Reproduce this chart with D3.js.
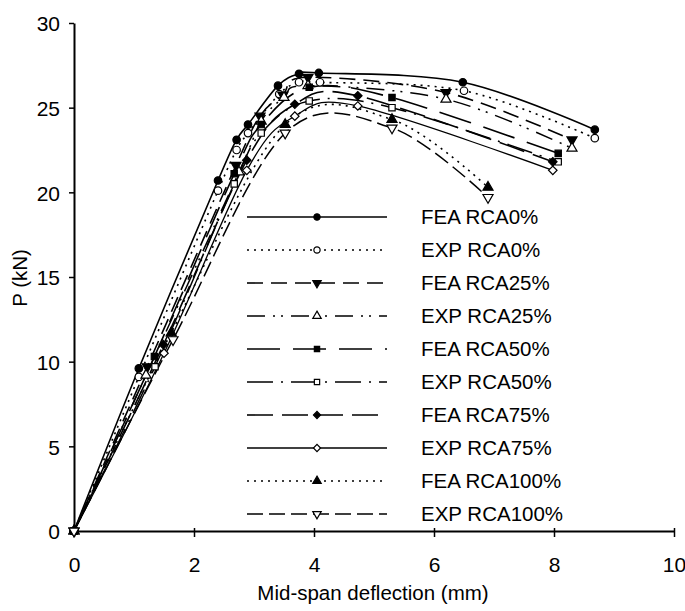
<!DOCTYPE html>
<html>
<head>
<meta charset="utf-8">
<script src="https://cdn.jsdelivr.net/npm/d3@7"></script>
<style>
  html, body { margin: 0; padding: 0; background: #fff; }
  svg text { font-family: "Liberation Sans", Arial, sans-serif; fill: #000; }
</style>
</head>
<body>
<svg id="chart" width="685" height="611"></svg>
<script>
// ---- data ----
const seriesNames = ["FEA RCA0%", "EXP RCA0%", "FEA RCA25%", "EXP RCA25%", "FEA RCA50%",
                     "EXP RCA50%", "FEA RCA75%", "EXP RCA75%", "FEA RCA100%", "EXP RCA100%"];

const fea0X = [0, 1.08, 2.4, 2.71, 2.9, 3.4, 3.75, 4.08, 6.48, 8.68];
const fea0P = [0, 9.6, 20.7, 23.1, 24.0, 26.3, 27.0, 27.05, 26.5, 23.7];
const exp0X = [0, 1.08, 2.4, 2.71, 2.9, 3.42, 3.75, 4.1, 6.5, 8.68];
const exp0P = [0, 9.1, 20.1, 22.5, 23.5, 25.8, 26.5, 26.5, 26.0, 23.2];
const fea25X = [0, 1.22, 2.7, 3.1, 3.48, 3.9, 6.2, 8.3];
const fea25P = [0, 9.7, 21.6, 24.5, 25.75, 26.8, 25.9, 23.1];
const exp25X = [0, 1.2, 2.75, 3.12, 3.5, 3.9, 6.2, 8.3];
const exp25P = [0, 9.2, 21.2, 24.2, 25.6, 26.3, 25.5, 22.6];
const fea50X = [0, 1.34, 2.67, 3.12, 3.92, 5.3, 8.07];
const fea50P = [0, 10.3, 21.1, 24.0, 26.2, 25.6, 22.3];
const exp50X = [0, 1.35, 2.67, 3.12, 3.92, 5.3, 8.07];
const exp50P = [0, 9.7, 20.5, 23.5, 25.4, 25.0, 21.8];
const fea75X = [0, 1.49, 2.88, 3.68, 4.73, 7.98];
const fea75P = [0, 11.0, 21.9, 25.2, 25.7, 21.8];
const exp75X = [0, 1.5, 2.88, 3.68, 4.73, 7.98];
const exp75P = [0, 10.5, 21.3, 24.5, 25.1, 21.3];
const fea100X = [0, 1.62, 3.52, 5.3, 6.9];
const fea100P = [0, 11.7, 24.0, 24.3, 20.3];
const exp100X = [0, 1.65, 3.52, 5.3, 6.9];
const exp100P = [0, 11.3, 23.5, 23.8, 19.7];

const xTicks = [0, 2, 4, 6, 8, 10];
const yTicks = [0, 5, 10, 15, 20, 25, 30];
const xTitle = "Mid-span deflection (mm)";
const yTitle = "P (kN)";

// ---- styles ----
const seriesX = [fea0X, exp0X, fea25X, exp25X, fea50X, exp50X, fea75X, exp75X, fea100X, exp100X];
const seriesP = [fea0P, exp0P, fea25P, exp25P, fea50P, exp50P, fea75P, exp75P, fea100P, exp100P];
const dashes = [null, "2,5", "16,8", "18,8,2,6,2,8", "33,13", "26,8,2,8", "26,9", null, "2,5", "16,6"];
const widths = [1.6, 1.6, 1.6, 1.5, 1.6, 1.5, 1.6, 1.3, 1.6, 1.5];
const markerType = [
  {s: d3.symbolCircle, r: 0, fill: "#000", size: 44},
  {s: d3.symbolCircle, r: 0, fill: "#fff", size: 44},
  {s: d3.symbolTriangle, r: 180, fill: "#000", size: 44},
  {s: d3.symbolTriangle, r: 0, fill: "#fff", size: 44},
  {s: d3.symbolSquare, r: 0, fill: "#000", size: 40},
  {s: d3.symbolSquare, r: 0, fill: "#fff", size: 40},
  {s: d3.symbolSquare, r: 45, fill: "#000", size: 36},
  {s: d3.symbolSquare, r: 45, fill: "#fff", size: 36},
  {s: d3.symbolTriangle, r: 0, fill: "#000", size: 44},
  {s: d3.symbolTriangle, r: 180, fill: "#fff", size: 44}
];

const svg = d3.select("#chart");
const x = d3.scaleLinear().domain([0, 10]).range([74, 674]);
const y = d3.scaleLinear().domain([0, 30]).range([531, 23]);

// axes
const gx = svg.append("g").attr("transform", `translate(0,${y(0)})`)
  .call(d3.axisBottom(x).tickValues(xTicks).tickSizeInner(6).tickSizeOuter(0).tickPadding(20));
gx.selectAll(".tick line").attr("y1", -3).attr("stroke-width", 1.5);
gx.select(".domain").attr("stroke-width", 2);
gx.selectAll(".tick text").attr("font-size", 21).attr("font-family", '"Liberation Sans", Arial, sans-serif');

const gy = svg.append("g").attr("transform", `translate(${x(0)},0)`)
  .call(d3.axisLeft(y).tickValues(yTicks).tickSizeInner(5).tickSizeOuter(0).tickPadding(9));
gy.selectAll(".tick line").attr("stroke-width", 1.5);
gy.select(".domain").attr("stroke-width", 2);
gy.selectAll(".tick text").attr("font-size", 21).attr("dy", "0.38em").attr("font-family", '"Liberation Sans", Arial, sans-serif');

svg.append("text").attr("x", 373).attr("y", 600).attr("text-anchor", "middle")
  .attr("font-size", 20.5).text(xTitle);
svg.append("text").attr("transform", "translate(27,278) rotate(-90)").attr("text-anchor", "middle")
  .attr("font-size", 20.5).text(yTitle);

// series
const line = d3.line().x(d => x(d[0])).y(d => y(d[1])).curve(d3.curveCardinal.tension(0));
const sym = (i) => d3.symbol().type(markerType[i].s).size(markerType[i].size)();

seriesNames.forEach((name, i) => {
  const pts = seriesX[i].map((v, j) => [v, seriesP[i][j]]);
  svg.append("path").datum(pts).attr("d", line)
    .attr("fill", "none").attr("stroke", "#000")
    .attr("stroke-width", widths[i])
    .attr("stroke-dasharray", dashes[i]);
});
seriesNames.forEach((name, i) => {
  const pts = seriesX[i].map((v, j) => [v, seriesP[i][j]]);
  svg.append("g").selectAll("path").data(pts).join("path")
    .attr("d", sym(i))
    .attr("transform", d => `translate(${x(d[0])},${y(d[1])}) rotate(${markerType[i].r})`)
    .attr("fill", markerType[i].fill).attr("stroke", "#000").attr("stroke-width", 1.2);
});

// legend
const lg = svg.append("g");
seriesNames.forEach((name, i) => {
  const ly = 217 + i * 33;
  lg.append("rect").attr("x", 240).attr("y", ly - 14).attr("width", 160).attr("height", 28).attr("fill", "#fff");
  lg.append("line").attr("x1", 247).attr("x2", 387).attr("y1", ly).attr("y2", ly)
    .attr("stroke", "#000").attr("stroke-width", widths[i]).attr("stroke-dasharray", dashes[i]);
  lg.append("path").attr("d", d3.symbol().type(markerType[i].s).size(markerType[i].size * 0.7)())
    .attr("transform", `translate(317,${ly}) rotate(${markerType[i].r})`)
    .attr("fill", markerType[i].fill).attr("stroke", "#000").attr("stroke-width", 1.2);
  lg.append("text").attr("x", 421).attr("y", ly).attr("dy", "0.36em")
    .attr("font-size", 20.5).text(name);
});
</script>
</body>
</html>
